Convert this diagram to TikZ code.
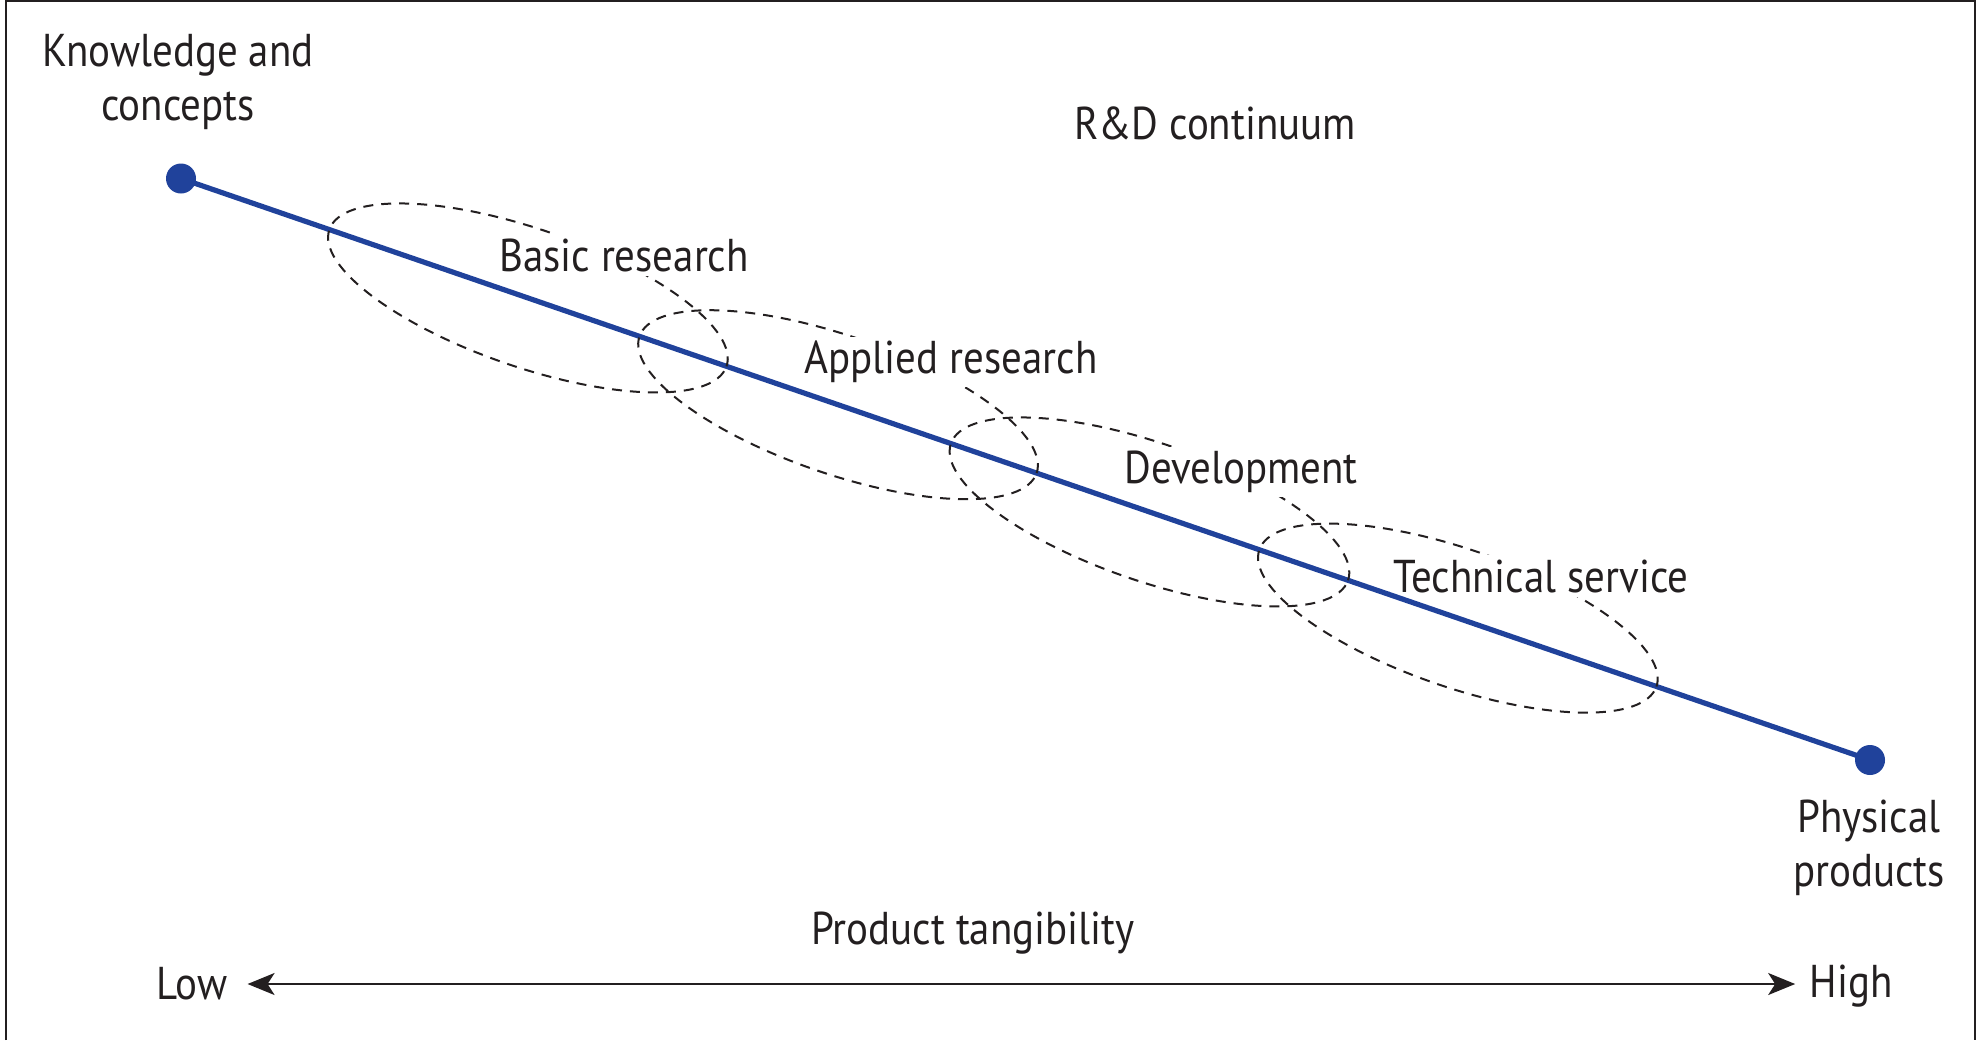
\documentclass[tikz,border=0pt]{standalone}
\usepackage{fontspec}
\setmainfont{PT Sans}[FakeStretch=0.89]
\usetikzlibrary{arrows.meta,calc}
\definecolor{rdblue}{RGB}{32,66,155}
\definecolor{ink}{RGB}{35,31,32}
\begin{document}
\begin{tikzpicture}[x=0.5pt,y=-0.5pt,
  lbl/.style={font=\fontsize{23}{27}\selectfont, text=ink, inner sep=1pt, align=center},
  phase/.style={lbl, fill=white, inner sep=2pt},
  endpt/.style={circle, fill=rdblue, minimum size=15pt, inner sep=0pt},
  conti/.style={rdblue, line width=2.6pt},
  zone/.style={draw=ink, line width=1pt, dash pattern=on 5pt off 4pt},
  axisline/.style={line width=1.1pt, draw=ink, {Stealth[length=13.5pt,width=11pt,inset=3.5pt]}-{Stealth[length=13.5pt,width=11pt,inset=3.5pt]}}
]
\useasboundingbox (0,0) rectangle (1985,1040);
\draw[line width=1pt, ink] (6,1040) -- (6,1) -- (1975,1) -- (1975,1040);

% continuum
\node[endpt] (kd) at (181,178.5) {};
\node[endpt] (pd) at (1870,760) {};
\draw[conti] (kd.center) -- (pd.center);

% zones
\coordinate (z1) at ($(kd.center)!0.2054!(pd.center)$);
\coordinate (z2) at ($(kd.center)!0.3890!(pd.center)$);
\coordinate (z3) at ($(kd.center)!0.5734!(pd.center)$);
\coordinate (z4) at ($(kd.center)!0.7560!(pd.center)$);
\foreach \z in {z1,z2,z3,z4}
  \draw[zone] (\z) circle[x radius=105pt, y radius=34.5pt, rotate=-19];

% labels
\node[lbl] (kc) at (178,82) {Knowledge and\\concepts};
\node[lbl] (rd) at (1215,123) {R\&D continuum};
\node[phase] (br) at (624,255) {Basic research};
\node[phase] (ar) at (951,362) {Applied research};
\node[phase] (dv) at (1241,472) {Development};
\node[phase] (ts) at (1541,576) {Technical service};
\begin{scope}
  \clip (br.south west) rectangle (br.north east)
        (ar.south west) rectangle (ar.north east)
        (dv.south west) rectangle (dv.north east)
        (ts.south west) rectangle (ts.north east);
  \draw[conti] (kd.center) -- (pd.center);
\end{scope}
\node[lbl] (pp) at (1869,848) {Physical\\products};
\node[lbl] (pt) at (973,933) {Product tangibility};
\node[lbl] (lo) at (192,984) {Low};
\node[lbl] (hi) at (1851,986) {High};
\draw[axisline] (lo.east) ++(18,0) coordinate (la) (la) -- ([xshift=-6]la -| hi.west) coordinate (ha);
\end{tikzpicture}
\end{document}
